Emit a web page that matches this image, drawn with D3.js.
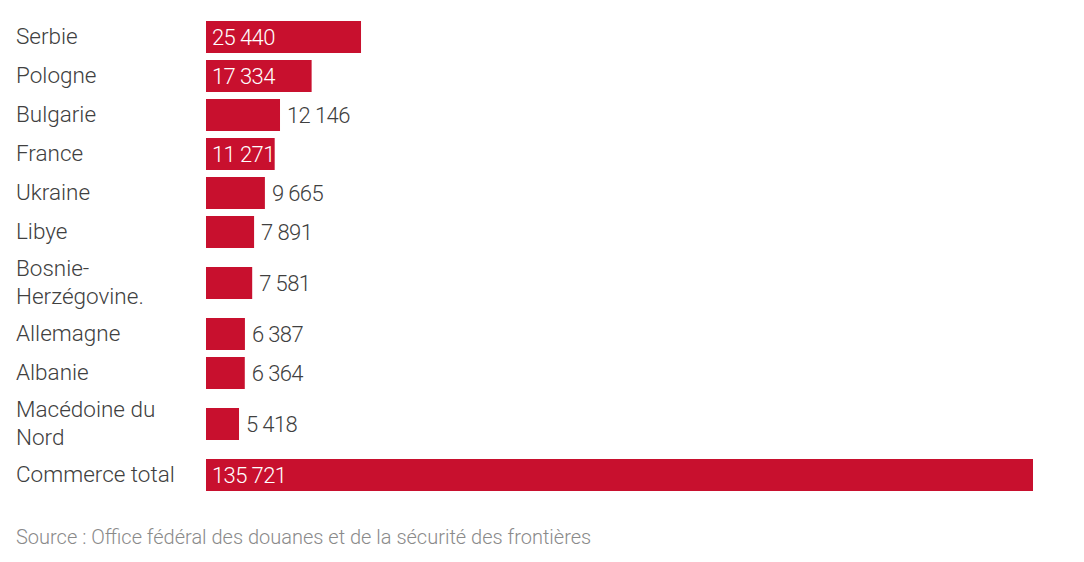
<!DOCTYPE html>
<html><head><meta charset="utf-8">
<script src="https://cdn.jsdelivr.net/npm/d3@7"></script>
<style>
html,body{margin:0;padding:0;background:#fff;}
svg{display:block;font-family:Roboto,"Open Sans",sans-serif;}
</style></head>
<body>
<svg id="chart" width="1084" height="562"></svg>
<script>
const categories = ["Serbie","Pologne","Bulgarie","France","Ukraine","Libye","Bosnie-\nHerzégovine.","Allemagne","Albanie","Macédoine du\nNord","Commerce total"];
const values = [25440,17334,12146,11271,9665,7891,7581,6387,6364,5418,135721];
const valueLabels = ["25 440","17 334","12 146","11 271","9 665","7 891","7 581","6 387","6 364","5 418","135 721"];
const insideLabels = ["Serbie","Pologne","France","Commerce total"];
const sourceText = "Source : Office fédéral des douanes et de la sécurité des frontières";

const svg = d3.select("#chart");
const barX0 = 206, barX1 = 1033;
const x = d3.scaleLinear().domain([0, d3.max(values)]).range([barX0, barX1]);

// row layout: height depends on number of label lines
const lines = categories.map(c => c.split("\n").length);
const rowH = lines.map(n => 39 + (n - 1) * 24);
let acc = 17.5;
const centers = rowH.map(h => { const c = acc + h / 2; acc += h; return c; });
const y = d3.scaleOrdinal().domain(categories).range(centers);
const barH = 32;
const red = "#c8102e";

const data = categories.map((c, i) => ({cat: c, v: values[i], lab: valueLabels[i], lines: c.split("\n")}));

const g = svg.append("g");
// category labels
const lab = g.selectAll("text.cat").data(data).join("text")
  .attr("class", "cat")
  .attr("x", 16)
  .attr("fill", "#404040")
  .attr("font-size", 22.5)
  .attr("font-weight", 300);
lab.each(function(d) {
  const t = d3.select(this);
  const n = d.lines.length;
  const lh = 28;
  d.lines.forEach((ln, j) => {
    t.append("tspan").attr("x", 16)
      .attr("y", y(d.cat) + (j - (n - 1) / 2) * lh)
      .attr("dy", "0.33em")
      .text(ln);
  });
});

// bars
g.selectAll("rect.bar").data(data).join("rect")
  .attr("class", "bar")
  .attr("x", x(0))
  .attr("y", d => y(d.cat) - barH / 2)
  .attr("width", d => x(d.v) - x(0))
  .attr("height", barH)
  .attr("fill", red);

// value labels
g.selectAll("text.val").data(data).join("text")
  .attr("class", "val")
  .attr("x", d => insideLabels.includes(d.cat) ? x(0) + 6 : x(d.v) + 7)
  .attr("y", d => y(d.cat))
  .attr("dy", "0.35em")
  .attr("font-size", 22)
  .attr("font-weight", 300)
  .attr("letter-spacing", -0.6)
  .attr("fill", d => insideLabels.includes(d.cat) ? "#ffffff" : "#404040")
  .text(d => d.lab);

// source
svg.append("text")
  .attr("x", 16).attr("y", 537).attr("dy", "0.35em")
  .attr("font-size", 20)
  .attr("font-weight", 300)
  .attr("fill", "#8a8a8a")
  .text(sourceText);
</script>
</body></html>
